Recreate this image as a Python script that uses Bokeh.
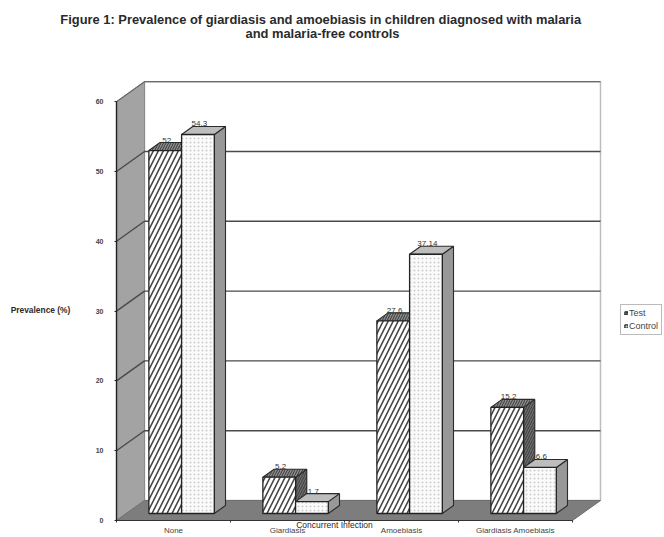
from bokeh.embed import file_html
from bokeh.models import FixedTicker, Label, Legend, LegendItem, Range1d
from bokeh.plotting import figure
from bokeh.resources import INLINE

categories = ["None", "Giardiasis", "Amoebiasis", "Giardiasis Amoebiasis"]
test_values = [52, 5.2, 27.6, 15.2]
control_values = [54.3, 1.7, 37.14, 6.6]
test_labels = ["52", "5.2", "27.6", "15.2"]
control_labels = ["54.3", "1.7", "37.14", "6.6"]
y_ticks = [0, 10, 20, 30, 40, 50, 60]

WIDTH, HEIGHT = 664, 537
ORIGIN_X, ORIGIN_Y = 116, 520     # page pixel of the front axis corner
PX_X, PX_Y = 114.0, 6.98          # pixels per category, pixels per percent
DEPTH_X, DEPTH_Y = 28 / PX_X, 20 / PX_Y   # oblique shift of the full chart depth
FONT = "Liberation Sans"

p = figure(
    frame_width=WIDTH, frame_height=HEIGHT, output_backend="svg", toolbar_location=None,
    x_range=Range1d(-ORIGIN_X / PX_X, (WIDTH - ORIGIN_X) / PX_X),
    y_range=Range1d(-(HEIGHT - ORIGIN_Y) / PX_Y, ORIGIN_Y / PX_Y),
    min_border=0, outline_line_color=None, background_fill_color="white",
)
p.grid.visible = False


def proj(cat, val, depth):
    """Oblique projection of (category position, value, depth 0..1) to plot data."""
    return cat + depth * DEPTH_X, val + depth * DEPTH_Y


def quad(points):
    xs, ys = zip(*[proj(*pt) for pt in points])
    return list(xs), list(ys)


n = len(categories)
top_val = y_ticks[-1]

# Walls and floor
xs, ys = quad([(0, 0, 1), (n, 0, 1), (n, top_val, 1), (0, top_val, 1)])
p.patch(xs, ys, fill_color="white", line_color="#bdbdbd", line_width=1.5)
xs, ys = quad([(0, 0, 0), (0, 0, 1), (0, top_val, 1), (0, top_val, 0)])
p.patch(xs, ys, fill_color="#a3a3a3", line_color="#8a8a8a", line_width=1)
xs, ys = quad([(0, 0, 0), (n, 0, 0), (n, 0, 1), (0, 0, 1)])
p.patch(xs, ys, fill_color="#7d7d7d", line_color="#6f6f6f", line_width=1)

# Gridlines run along the side wall and across the back wall
for v in y_ticks[1:-1]:
    xs, ys = quad([(0, v, 0), (0, v, 1), (n, v, 1)])
    p.line(xs, ys, line_color="#4a4a4a", line_width=1.4)
xs, ys = quad([(0, top_val, 0), (0, top_val, 1), (n, top_val, 1)])
p.line(xs, ys, line_color="#6a6a6a", line_width=1.2)

BAR_W = 0.287
D0, D1 = 0.35, 0.75
SHIFT = -0.015


def draw_series(values, labels, offset, front_style, top_fill, side_fill, shade_hatch):
    front_xs, front_ys, top_xs, top_ys, side_xs, side_ys = [], [], [], [], [], []
    for i, val in enumerate(values):
        a = i + 0.5 + SHIFT + offset
        b = a + BAR_W
        fx, fy = quad([(a, 0, D0), (b, 0, D0), (b, val, D0), (a, val, D0)])
        tx, ty = quad([(a, val, D0), (b, val, D0), (b, val, D1), (a, val, D1)])
        sx, sy = quad([(b, 0, D0), (b, 0, D1), (b, val, D1), (b, val, D0)])
        front_xs.append(fx); front_ys.append(fy)
        top_xs.append(tx); top_ys.append(ty)
        side_xs.append(sx); side_ys.append(sy)
    shade = dict(line_color="#2b2b2b", line_width=1.1)
    if shade_hatch:
        shade.update(hatch_pattern="right_diagonal_line", hatch_color="#3a3a3a",
                     hatch_scale=5, hatch_weight=1)
    p.patches(side_xs, side_ys, fill_color=side_fill, **shade)
    p.patches(top_xs, top_ys, fill_color=top_fill, **shade)
    front = p.patches(front_xs, front_ys, line_color="#222222", line_width=1.3, **front_style)
    for i, val in enumerate(values):
        x, y = proj(i + 0.5 + SHIFT + offset + BAR_W / 2 - D0 * DEPTH_X, val, D1)
        p.add_layout(Label(x=x, y=y, text=labels[i], text_align="center",
                           text_baseline="bottom", text_font=FONT, text_font_size="8px",
                           text_color="#333333", y_offset=0))
    return front


test_r = draw_series(
    test_values, test_labels, -BAR_W,
    dict(fill_color="white", hatch_pattern="right_diagonal_line", hatch_color="#444444",
         hatch_scale=10, hatch_weight=1.6),
    "#8c8c8c", "#6e6e6e", True,
)
control_r = draw_series(
    control_values, control_labels, 0,
    dict(fill_color="#fbfbfb", hatch_pattern="dot", hatch_color="#cccccc",
         hatch_scale=4, hatch_weight=1),
    "#bdbdbd", "#989898", False,
)

# Axes pinned to the front corner of the chart box
yaxis = p.yaxis[0]
yaxis.fixed_location = 0
yaxis.ticker = FixedTicker(ticks=y_ticks)
yaxis.bounds = (0, top_val)
yaxis.axis_line_color = "#222222"
yaxis.axis_line_width = 1.4
yaxis.major_tick_line_color = "#222222"
yaxis.major_tick_out = 2
yaxis.major_tick_in = 0
yaxis.minor_tick_line_color = None
yaxis.major_label_standoff = 11
yaxis.major_label_text_font = FONT
yaxis.major_label_text_font_size = "7px"
yaxis.major_label_text_font_style = "bold"
yaxis.major_label_text_color = "#444444"

xaxis = p.xaxis[0]
xaxis.fixed_location = 0
xaxis.ticker = FixedTicker(ticks=[i + 0.5 for i in range(n)], minor_ticks=list(range(n + 1)))
xaxis.major_label_overrides = {i + 0.5: c for i, c in enumerate(categories)}
xaxis.bounds = (0, n)
xaxis.axis_line_color = "#333333"
xaxis.axis_line_width = 1.2
xaxis.major_tick_line_color = None
xaxis.major_tick_out = 0
xaxis.major_tick_in = 0
xaxis.minor_tick_line_color = "#333333"
xaxis.minor_tick_out = 2
xaxis.minor_tick_in = 0
xaxis.major_label_standoff = 3
xaxis.major_label_text_font = FONT
xaxis.major_label_text_font_size = "8px"
xaxis.major_label_text_color = "#444444"


def caption(px, py, text, align="center", size="7px", style="bold"):
    """Text placed by page pixel, converted to plot data so it follows the scales."""
    p.add_layout(Label(x=(px - ORIGIN_X) / PX_X, y=(ORIGIN_Y - py) / PX_Y, text=text,
                       text_align=align, text_baseline="middle", text_font=FONT,
                       text_font_size=size, text_font_style=style, text_color="#2a2a2a"))


caption(322, 19, "Figure 1: Prevalence of giardiasis and amoebiasis in children diagnosed with  malaria", size="12.9px")
caption(322, 33, "and malaria-free controls", size="12.9px")
caption(40, 309, "Prevalence (%)", size="8.4px")
caption(334, 524, "Concurrent Infection", size="8.5px", style="normal")

legend = Legend(
    items=[LegendItem(label="Test", renderers=[test_r]),
           LegendItem(label="Control", renderers=[control_r])],
    location=(620, 202),
    orientation="vertical",
    label_text_font=FONT, label_text_font_size="9px",
    label_text_color="#444444",
    glyph_width=4, glyph_height=4, label_standoff=1, spacing=3,
    padding=3, margin=0, border_line_color="#777777", border_line_width=1.2,
    label_height=9,
)
p.add_layout(legend)

open("out.html", "w").write(file_html(p, INLINE))
